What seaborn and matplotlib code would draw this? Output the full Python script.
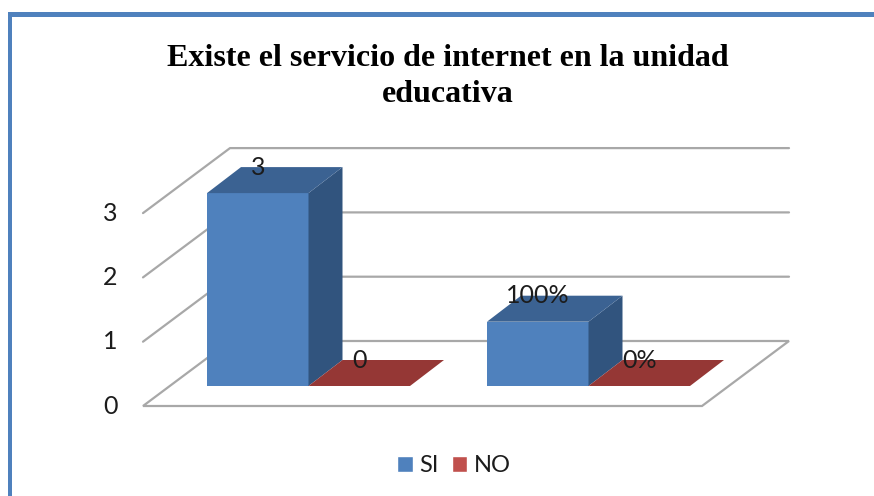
import matplotlib
matplotlib.use("Agg")
import matplotlib.pyplot as plt
from matplotlib.patches import Polygon, Rectangle
import pandas as pd
import seaborn as sns

# data
title = "Existe el servicio de internet en la unidad\neducativa"
groups = ["A", "B"]
si_values = [3, 1]
no_values = [0, 0]
si_labels = ["3", "100%"]
no_labels = ["0", "0%"]
y_ticks = [0, 1, 2, 3]

# colours
blue = "#4f81bd"
blue_top = "#3b6292"
blue_side = "#31547e"
red = "#c0504d"
red_top = "#953735"
grid = "#a8a8a8"
frame = "#4f81bd"
ink = "#1c1c1c"

sns.set_theme(style="white")
plt.rcParams["font.family"] = ["Lato", "DejaVu Sans"]

df = pd.DataFrame({
    "grupo": groups * 2,
    "serie": ["SI"] * 2 + ["NO"] * 2,
    "valor": si_values + no_values,
})

fig = plt.figure(figsize=(8.74, 4.96), dpi=100)
ax = fig.add_axes([0, 0, 1, 1])
sns.barplot(data=df, x="grupo", y="valor", hue="serie", palette=[blue, red],
            width=0.725, gap=0, saturation=1, ax=ax, zorder=3)

# one category = 280 px, one unit = 64.3 px
px_x = 280.0
px_y = 64.3
ax.set_xlim(-308.5 / px_x, (874 - 308.5) / px_x)
ax.set_ylim(-110 / px_y, 386 / px_y)
ax.axis("off")

# depth of the fake 3d bars and of the floor
dx = 34 / px_x
dy = 26 / px_y
floor_left = -165.5 / px_x
floor_right = 393.5 / px_x
floor_front = -20 / px_y
floor_dx = 87 / px_x
floor_dy = 65 / px_y

# floor and walls
floor = Polygon([(floor_left, floor_front), (floor_right, floor_front),
                 (floor_right + floor_dx, floor_front + floor_dy),
                 (floor_left + floor_dx, floor_front + floor_dy)],
                closed=True, fc="white", ec=grid, lw=1.6, zorder=1)
ax.add_patch(floor)
for v in y_ticks[1:]:
    ax.plot([floor_left, floor_left + floor_dx, floor_right + floor_dx],
            [floor_front + v, floor_front + floor_dy + v, floor_front + floor_dy + v],
            color=grid, lw=1.6, zorder=1)
for v in y_ticks:
    ax.text(-198.5 / px_x, floor_front + v, str(v), ha="center", va="center",
            fontsize=18, color=ink)

# side and top faces, taken from the seaborn bars
for bars, top_col, labels in zip(ax.containers, [blue_top, red_top], [si_labels, no_labels]):
    for bar, label in zip(bars, labels):
        x0 = bar.get_x()
        x1 = x0 + bar.get_width()
        h = bar.get_height()
        bar.set_linewidth(0)
        if h > 0:
            ax.add_patch(Polygon([(x1, 0), (x1 + dx, dy), (x1 + dx, h + dy), (x1, h)],
                                 closed=True, fc=blue_side, ec="none", zorder=3))
        ax.add_patch(Polygon([(x0, h), (x1, h), (x1 + dx, h + dy), (x0 + dx, h + dy)],
                             closed=True, fc=top_col, ec="none", zorder=4))
        ax.text((x0 + x1) / 2, h + dy, label, ha="center", va="center",
                fontsize=18, color=ink, zorder=6)

sns.move_legend(ax, "center", bbox_to_anchor=(454 / 874, 1 - 466 / 496), ncol=2,
                frameon=False, title=None, fontsize=17, handlelength=0.66,
                handleheight=0.66, handletextpad=0.28, columnspacing=0.55,
                labelcolor=ink)

fig.text(448 / 874, 1 - 76.5 / 496, title, ha="center", va="center", fontsize=23,
         family="Liberation Serif", weight="bold", color="black", linespacing=1.3)

# blue frame of the picture, open to the right and below
fig.add_artist(Rectangle((8 / 874, 1 - 17 / 496), 866 / 874, 5 / 496,
                         transform=fig.transFigure, fc=frame, ec="none"))
fig.add_artist(Rectangle((8 / 874, 0), 4 / 874, 1 - 12 / 496,
                         transform=fig.transFigure, fc=frame, ec="none"))

fig.savefig("out.png", dpi=100)
